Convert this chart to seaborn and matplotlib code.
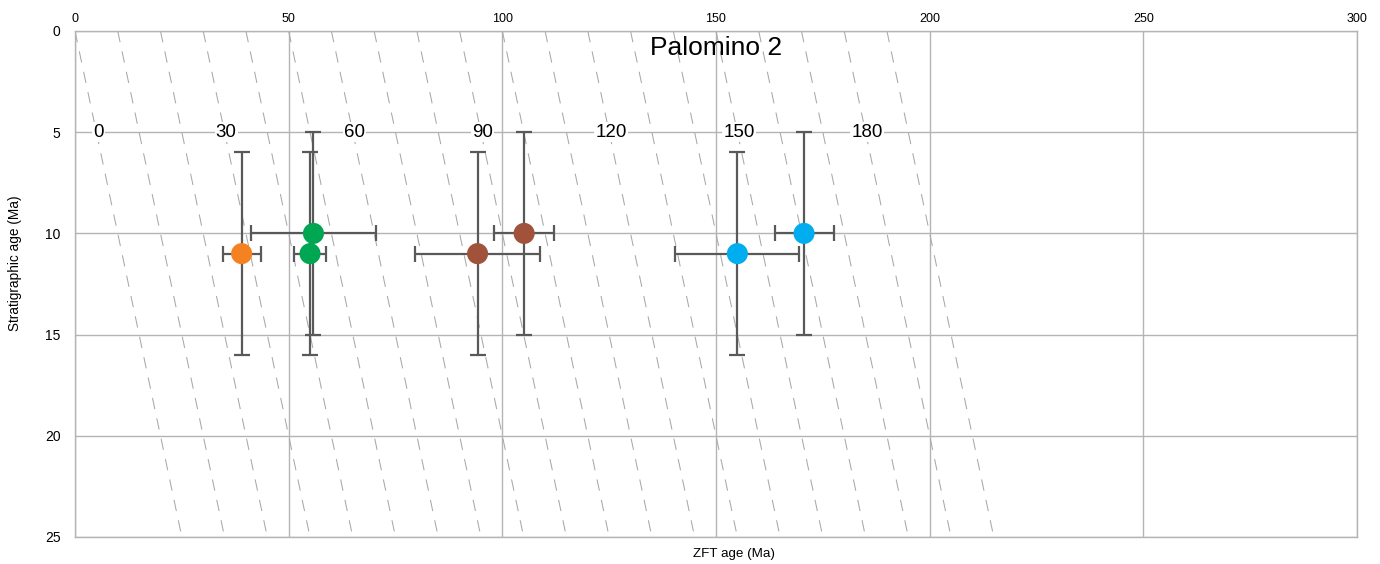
import matplotlib
matplotlib.use("Agg")
import matplotlib.pyplot as plt
import seaborn as sns
import pandas as pd

# ---- data ----
sample_group = ["orange", "green", "green", "brown", "brown", "blue", "blue"]
zft_age = [39.0, 55.8, 55.0, 94.2, 105.1, 155.0, 170.6]
zft_low = [34.6, 41.2, 51.3, 79.6, 98.1, 140.3, 163.7]
zft_high = [43.5, 70.4, 58.7, 108.8, 112.1, 169.5, 177.6]
strat_age = [11, 10, 11, 11, 10, 11, 10]
strat_err = [5, 5, 5, 5, 5, 5, 5]

lag_times = [0, 10, 20, 30, 40, 50, 60, 70, 80, 90, 100, 110, 120, 130, 140,
             150, 160, 170, 180, 190]
lag_labels = [0, 30, 60, 90, 120, 150, 180]
strat_range = [0, 25]

palette = {"orange": "#F58220", "green": "#00A651",
           "brown": "#A0523A", "blue": "#00AEEF"}

df = pd.DataFrame({"group": sample_group, "zft": zft_age, "lo": zft_low,
                   "hi": zft_high, "strat": strat_age, "serr": strat_err})

sns.set_theme(style="white")
plt.rcParams["font.family"] = ["Liberation Sans", "DejaVu Sans"]
for k in ["text.color", "axes.labelcolor", "xtick.color", "ytick.color"]:
    plt.rcParams[k] = "black"

fig = plt.figure(figsize=(13.8, 5.64), dpi=100)
ax = fig.add_axes([75 / 1380, 1 - 537 / 564, 1282 / 1380, 506 / 564])

grid_c = "#b4b4b4"
# lag-time lines (ZFT age = strat age + lag)
for lag in lag_times:
    lx = [lag + s for s in strat_range]
    ax.plot(lx, strat_range, color="#a8a8a8", lw=0.75,
            dashes=(11, 9), zorder=1)

for lab in lag_labels:
    ax.text(lab + 5.4, 5, str(lab), fontsize=13.5, ha="center", va="center",
            color="black", zorder=3,
            bbox=dict(facecolor="white", edgecolor="none", pad=1.0))

# error bars
for _, r in df.iterrows():
    ax.errorbar(r["zft"], r["strat"],
                xerr=[[r["zft"] - r["lo"]], [r["hi"] - r["zft"]]],
                yerr=r["serr"], fmt="none", ecolor="#595959",
                elinewidth=1.6, capsize=5.8, capthick=1.6, zorder=4)

sns.scatterplot(data=df, x="zft", y="strat", hue="group", palette=palette,
                s=230, edgecolor="none", legend=False, ax=ax, zorder=5)

ax.set_xlim(0, 300)
ax.set_ylim(25, 0)
ax.set_xticks([0, 50, 100, 150, 200, 250, 300])
ax.set_yticks([0, 5, 10, 15, 20, 25])
ax.xaxis.tick_top()
ax.tick_params(axis="x", labelsize=9, length=0, pad=4)
ax.tick_params(axis="y", labelsize=10, length=0, pad=10.5)
ax.grid(True, color=grid_c, lw=1.0, zorder=0)
ax.set_axisbelow(True)
for sp in ax.spines.values():
    sp.set_color(grid_c)
    sp.set_linewidth(1.0)

ax.set_xlabel("ZFT age (Ma)", fontsize=9.6)
ax.xaxis.set_label_position("bottom")
ax.xaxis.set_label_coords(0.514, -0.022)
ax.set_ylabel("Stratigraphic age (Ma)", fontsize=9.8)
ax.yaxis.set_label_coords(-0.0415, 0.541)

ax.text(0.5, 0.966, "Palomino 2", transform=ax.transAxes, fontsize=19,
        ha="center", va="center", zorder=3)

fig.savefig("out.png", dpi=100)
